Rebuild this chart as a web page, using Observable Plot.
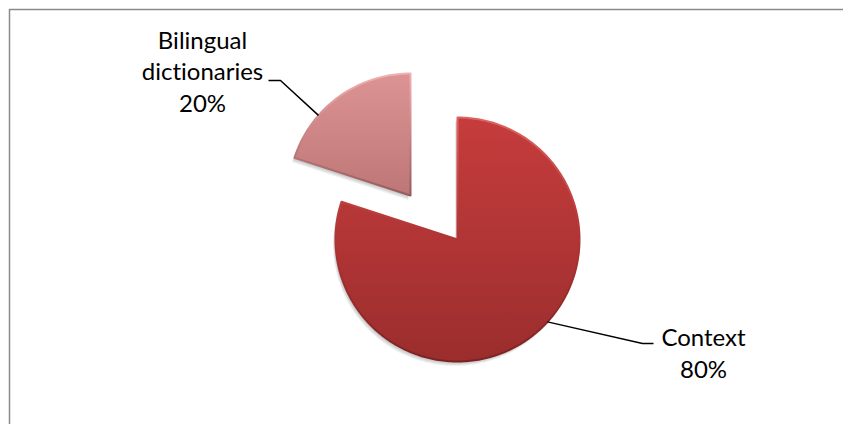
<!DOCTYPE html>
<html><head><meta charset="utf-8">
<script src="https://cdn.jsdelivr.net/npm/d3@7"></script>
<script src="https://cdn.jsdelivr.net/npm/@observablehq/plot@0.6"></script>
<style>html,body{margin:0;padding:0;background:#fff;overflow:hidden;} text{font-variant-ligatures:none;}</style>
</head><body><div id="chart"></div>
<script>
// ---- data ----
const categories = ["Context", "Bilingual dictionaries"];
const values = [80, 20];
const labelTexts = ["Context\n80%", "Bilingual\ndictionaries\n20%"];

// ---- layout (pixels / units) ----
const W = 843, H = 424;
const cx = 457, cy = 239, R = 122;            // pie centre and radius in px
const startDeg = 0;                            // angle of first slice
const explodeVec = [[0, 0], [-47 / R, 44 / R]];// slice explosion (radius units, y up)
const leaderFrac = [0.46, 0.32];               // where the leader meets each arc (fraction of slice)
const labelPos = [                             // label anchor (radius units, last baseline)
  {x: (703 - cx) / R, y: (cy - 377) / R},
  {x: (202 - cx) / R, y: (cy - 111) / R}
];
const elbow = [                                // leader elbows (radius units)
  [{x: (642 - cx) / R, y: (cy - 343) / R}, {x: (653 - cx) / R, y: (cy - 343) / R}],
  [{x: (280 - cx) / R, y: (cy - 80) / R}, {x: (268 - cx) / R, y: (cy - 80) / R}]
];
const style = {
  fills: ["#b03434", "#cf8585"],
  gradIds: ["gCtx", "gBil"],
  rimIds: ["rCtx", "rBil"],
  font: "Lato, 'Open Sans', sans-serif",
  fontSize: 24
};

// ---- pie geometry from values ----
const arcs = d3.pie().sort(null)
  .startAngle(startDeg * Math.PI / 180)
  .endAngle(startDeg * Math.PI / 180 + 2 * Math.PI)(values);

const slicePts = [];
const leaderPts = [];
arcs.forEach((a, i) => {
  const [ox, oy] = explodeVec[i];
  const key = categories[i];
  slicePts.push({k: key, x: ox, y: oy});
  const n = Math.ceil((a.endAngle - a.startAngle) / (Math.PI / 180));
  for (let j = 0; j <= n; j++) {
    const t = a.startAngle + (a.endAngle - a.startAngle) * j / n;
    slicePts.push({k: key, x: ox + Math.sin(t), y: oy + Math.cos(t)});
  }
  slicePts.push({k: key, x: ox, y: oy});
  const lt = a.startAngle + (a.endAngle - a.startAngle) * leaderFrac[i];
  leaderPts.push({k: key, x: ox + Math.sin(lt), y: oy + Math.cos(lt)});
  elbow[i].forEach(p => leaderPts.push({k: key, x: p.x, y: p.y}));
});

const labelData = categories.map((c, i) => ({k: c, text: labelTexts[i], x: labelPos[i].x, y: labelPos[i].y}));

const xDom = [(9 - cx) / R, (W - cx) / R];
const yDom = [(cy - H) / R, (cy - 9) / R];

// soft shadow: a few faint offset copies of the slices
const shadowMarks = [[-1, 1.5], [-1.5, 2.5], [-2, 3.5], [-2.5, 4.5]].map(([dx, dy]) =>
  Plot.line(slicePts, {x: "x", y: "y", z: "k", fill: "#000", fillOpacity: 0.06, stroke: "none", dx, dy, curve: "linear"}));

const svg = Plot.plot({
  width: W, height: H,
  marginTop: 9, marginLeft: 9, marginRight: 0, marginBottom: 0,
  x: {domain: xDom, axis: null},
  y: {domain: yDom, axis: null},
  style: {background: "#fff"},
  color: {domain: categories, range: style.fills},
  marks: [
    Plot.ruleY([yDom[1]], {stroke: "#8a8a8a", strokeWidth: 1.5}),
    Plot.ruleX([xDom[0]], {stroke: "#8a8a8a", strokeWidth: 1.5}),
    ...shadowMarks,
    Plot.line(slicePts, {
      x: "x", y: "y", z: "k", fill: "k", stroke: "k", strokeWidth: 2, curve: "linear"
    }),
    Plot.line(leaderPts, {x: "x", y: "y", z: "k", stroke: "#000", strokeWidth: 1.5, strokeLinecap: "butt"}),
    Plot.text(labelData, {
      x: "x", y: "y", text: "text", fontSize: style.fontSize, fontFamily: style.font,
      lineAnchor: "bottom", lineHeight: 1.31, fill: "#000", textAnchor: "middle"
    })
  ]
});

const defs = d3.select(svg).insert("defs", ":first-child");
function grad(id, stops, x2 = 0, y2 = 1) {
  const g = defs.append("linearGradient").attr("id", id)
    .attr("x1", 0).attr("y1", 0).attr("x2", x2).attr("y2", y2);
  stops.forEach(([o, c]) => g.append("stop").attr("offset", o).attr("stop-color", c));
}
grad("gCtx", [[0, "#c63c3c"], [0.5, "#b13535"], [1, "#9b2d2d"]]);
grad("gBil", [[0, "#dc9393"], [0.5, "#ce8585"], [1, "#bd7676"]]);
grad("rCtx", [[0, "#de6464"], [0.45, "#b53636"], [1, "#7c2222"]]);
grad("rBil", [[0, "#f0b2b2"], [0.45, "#cf8888"], [1, "#955a5a"]]);

// apply gradients to slice paths (matched by their flat colour)
d3.select(svg).selectAll("path").each(function () {
  const fl = (this.getAttribute("fill") || "").toLowerCase();
  const i = style.fills.indexOf(fl);
  if (i >= 0) {
    this.setAttribute("fill", `url(#${style.gradIds[i]})`);
    this.setAttribute("stroke", `url(#${style.rimIds[i]})`);
  }
});

document.getElementById("chart").appendChild(svg);
</script>
</body></html>
